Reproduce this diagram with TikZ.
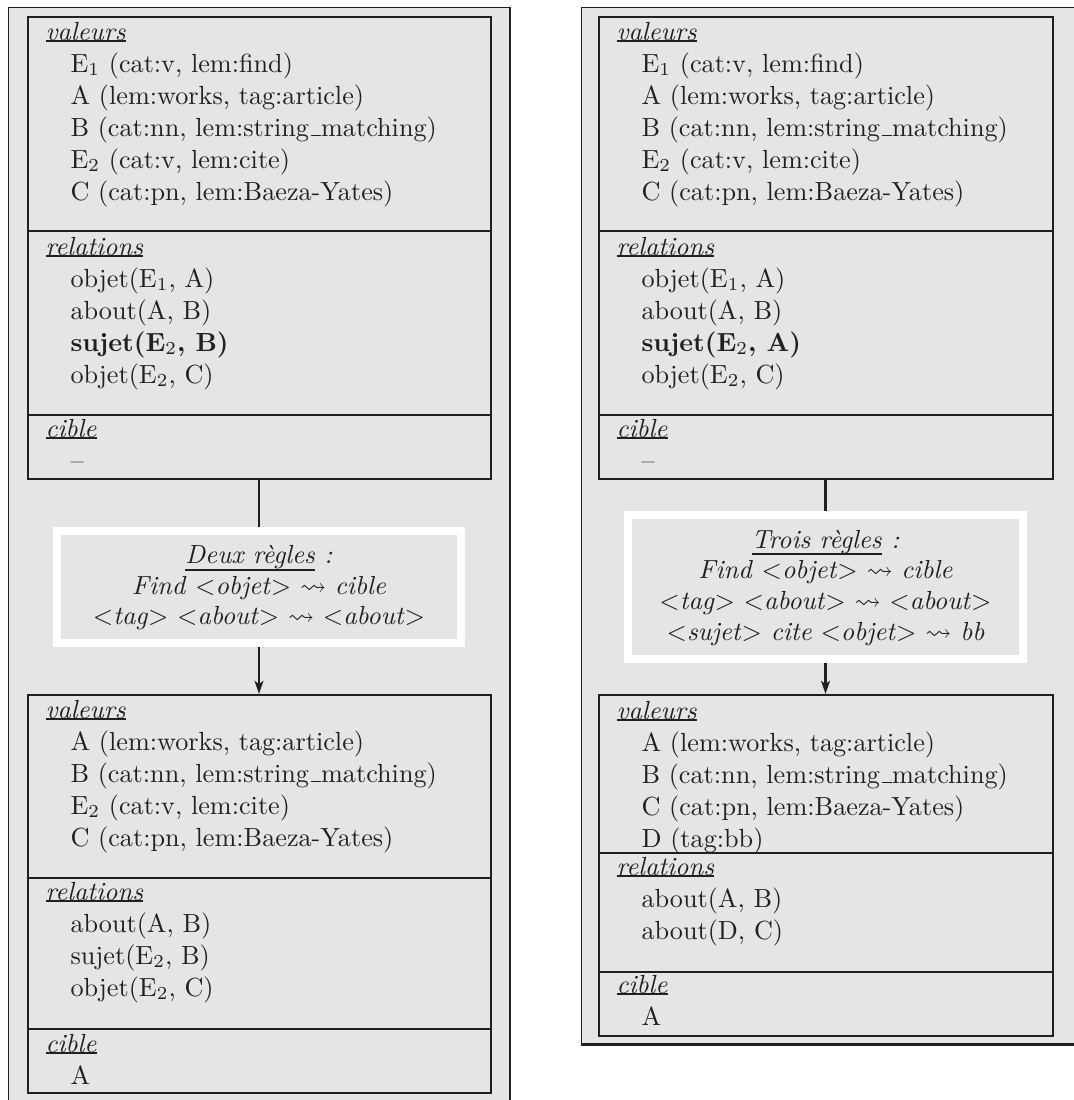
\documentclass[tikz,border=0pt]{standalone}
\usepackage{amssymb}
\usetikzlibrary{arrows.meta,fit}
\definecolor{panelfill}{RGB}{229,229,229}
\definecolor{ink}{RGB}{35,31,32}
\newcommand\myul[1]{\setbox0\hbox{#1}\leavevmode\rlap{\rule[\dimexpr-\dp0-0.7pt\relax]{\wd0}{0.8pt}}\box0}
\newcommand\myus{\leavevmode\kern.06em\vbox{\hrule height 0.55pt width .4em}}
\newcommand\sectlines[5]{%
  \node[hdr] (#1) at ({#2+17},#3) {\myul{\textit{#4}}};
  \foreach \t [count=\i] in {#5} {\node[itm] (#1-\i) at ({#2+42},{#3+32*\i}) {\t};}
}
\tikzset{
  panel/.style={fill=panelfill, draw=ink, line width=0.4pt},
  panelshadow/.style={draw=ink, line width=0.9pt},
  box/.style={draw=ink, fill=panelfill, line width=0.85pt, inner sep=0pt},
  divider/.style={draw=ink, line width=0.85pt},
  hdr/.style={anchor=base west, inner sep=0pt, text=ink},
  itm/.style={anchor=base west, inner sep=0pt, text=ink},
  rulebox/.style={draw=white, fill=panelfill, line width=3.05pt, inner sep=0pt},
  ruletext/.style={inner sep=0pt, align=center, text=ink, font=\fontsize{10}{11.7}\selectfont},
  conn/.style={draw=ink, line width=0.85pt},
  arr/.style={conn, -{Stealth[length=5pt,width=3.4pt,inset=1.3pt]}}
}
\begin{document}
\begin{tikzpicture}[x=0.3817pt,y=-0.3817pt]
\useasboundingbox (0,0) rectangle (1074,1100);
% panels
\draw[panel] (8.5,7.5) rectangle (509.8,1115);
\draw[panelshadow] (509.8,7.1) -- (509.8,1115);
\draw[panel] (581.5,7.5) rectangle (1090,1044.6);
\draw[panelshadow] (581.1,1044.6) -- (1090,1044.6);

% ---------- left column ----------
\node[box, fit={(28,17) (491,479)}] (LT) {};
\draw[divider] (LT.west |- 0,231) -- (LT.east |- 0,231);
\draw[divider] (LT.west |- 0,415) -- (LT.east |- 0,415);
\sectlines{LTv}{28}{40}{valeurs}{{E$_1$ (cat:v, lem:find)},{A (lem:works, tag:article)},{B (cat:nn, lem:string\myus matching)},{E$_2$ (cat:v, lem:cite)},{C (cat:pn, lem:Baeza-Yates)}}
\sectlines{LTr}{28}{255}{relations}{{objet(E$_1$, A)},{about(A, B)},{\textbf{sujet(E$_2$, B)}},{objet(E$_2$, C)}}
\sectlines{LTc}{28}{437}{cible}{{--}}

\node[rulebox, fit={(57,531) (461,643)}] (LR) {};
\node[ruletext] (LRt) at ([yshift=-0.3pt]LR.center) {\myul{\textit{Deux règles}}\textit{ :}\\
\textit{Find} $<$\textit{objet}$>$ $\leadsto$ \textit{cible}\\
$<$\textit{tag}$>$ $<$\textit{about}$>$ $\leadsto$ $<$\textit{about}$>$};

\node[box, fit={(28,695) (491,1093)}] (LB) {};
\draw[divider] (LB.west |- 0,878) -- (LB.east |- 0,878);
\draw[divider] (LB.west |- 0,1029) -- (LB.east |- 0,1029);
\sectlines{LBv}{28}{718}{valeurs}{{A (lem:works, tag:article)},{B (cat:nn, lem:string\myus matching)},{E$_2$ (cat:v, lem:cite)},{C (cat:pn, lem:Baeza-Yates)}}
\sectlines{LBr}{28}{900}{relations}{{about(A, B)},{sujet(E$_2$, B)},{objet(E$_2$, C)}}
\sectlines{LBc}{28}{1052}{cible}{{A}}

\draw[conn] (LR.north |- LT.south) -- (LR.north);
\draw[arr] (LR.south) -- (LR.south |- LB.north);

% ---------- right column ----------
\node[box, fit={(599,17) (1053,479)}] (RT) {};
\draw[divider] (RT.west |- 0,231) -- (RT.east |- 0,231);
\draw[divider] (RT.west |- 0,415) -- (RT.east |- 0,415);
\sectlines{RTv}{599}{40}{valeurs}{{E$_1$ (cat:v, lem:find)},{A (lem:works, tag:article)},{B (cat:nn, lem:string\myus matching)},{E$_2$ (cat:v, lem:cite)},{C (cat:pn, lem:Baeza-Yates)}}
\sectlines{RTr}{599}{255}{relations}{{objet(E$_1$, A)},{about(A, B)},{\textbf{sujet(E$_2$, A)}},{objet(E$_2$, C)}}
\sectlines{RTc}{599}{437}{cible}{{--}}

\node[rulebox, fit={(628,515) (1023,659)}] (RR) {};
\node[ruletext] (RRt) at ([yshift=-0.3pt]RR.center) {\myul{\textit{Trois règles}}\textit{ :}\\
\textit{Find} $<$\textit{objet}$>$ $\leadsto$ \textit{cible}\\
$<$\textit{tag}$>$ $<$\textit{about}$>$ $\leadsto$ $<$\textit{about}$>$\\
$<$\textit{sujet}$>$ \textit{cite} $<$\textit{objet}$>$ $\leadsto$ \textit{bb}};

\node[box, fit={(599,695) (1053,1036)}] (RB) {};
\draw[divider] (RB.west |- 0,853) -- (RB.east |- 0,853);
\draw[divider] (RB.west |- 0,972) -- (RB.east |- 0,972);
\sectlines{RBv}{599}{719}{valeurs}{{A (lem:works, tag:article)},{B (cat:nn, lem:string\myus matching)},{C (cat:pn, lem:Baeza-Yates)},{D (tag:bb)}}
\sectlines{RBr}{599}{875}{relations}{{about(A, B)},{about(D, C)}}
\sectlines{RBc}{599}{993}{cible}{{A}}

\draw[conn] (RR.north |- RT.south) -- (RR.north);
\draw[arr] (RR.south) -- (RR.south |- RB.north);
\end{tikzpicture}
\end{document}
